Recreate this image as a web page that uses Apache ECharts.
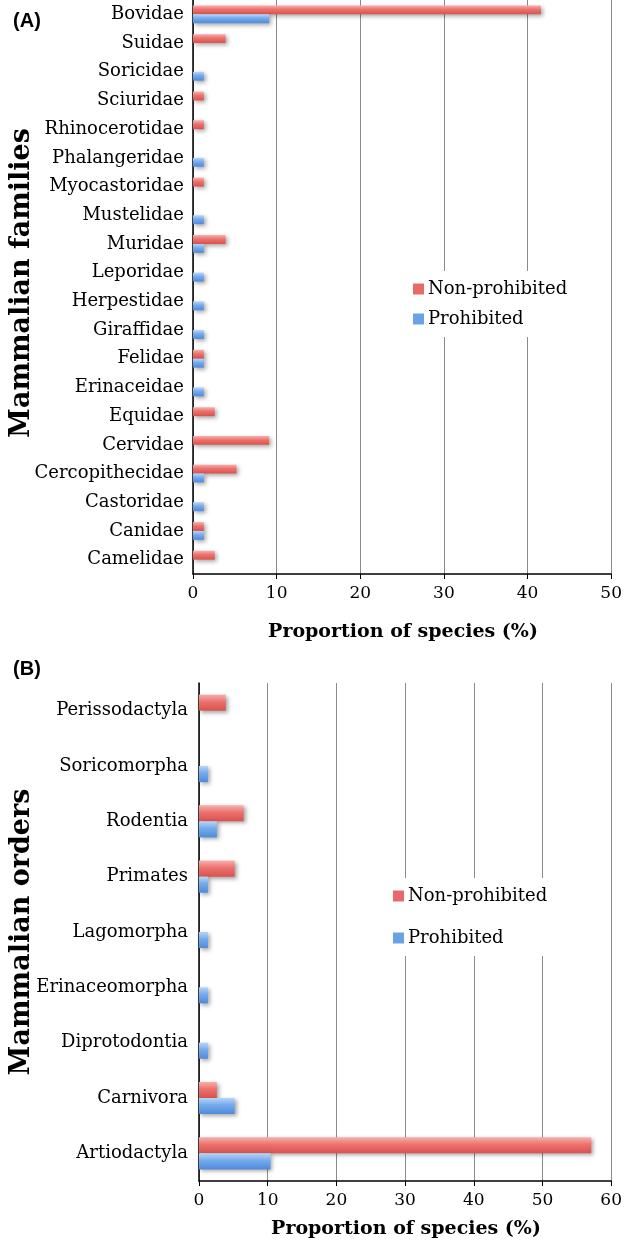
<!DOCTYPE html>
<html>
<head>
<meta charset="utf-8">
<script src="https://cdn.jsdelivr.net/npm/echarts@6/dist/echarts.min.js"></script>
<style>
html,body{margin:0;padding:0;background:#fff;}
#chart{width:625px;height:1245px;}
</style>
</head>
<body>
<div id="chart"></div>
<script>
// Panel A: mammalian families (top to bottom)
const familyCategories = ['Bovidae','Suidae','Soricidae','Sciuridae','Rhinocerotidae','Phalangeridae','Myocastoridae','Mustelidae','Muridae','Leporidae','Herpestidae','Giraffidae','Felidae','Erinaceidae','Equidae','Cervidae','Cercopithecidae','Castoridae','Canidae','Camelidae'];
const familyNonProhibited = [41.6, 3.9, 0, 1.3, 1.3, 0, 1.3, 0, 3.9, 0, 0, 0, 1.3, 0, 2.6, 9.1, 5.2, 0, 1.3, 2.6];
const familyProhibited    = [9.1, 0, 1.3, 0, 0, 1.3, 0, 1.3, 1.3, 1.3, 1.3, 1.3, 1.3, 1.3, 0, 0, 1.3, 1.3, 1.3, 0];
const familyTicks = [0, 10, 20, 30, 40, 50];

// Panel B: mammalian orders (top to bottom)
const orderCategories = ['Perissodactyla','Soricomorpha','Rodentia','Primates','Lagomorpha','Erinaceomorpha','Diprotodontia','Carnivora','Artiodactyla'];
const orderNonProhibited = [3.9, 0, 6.5, 5.2, 0, 0, 0, 2.6, 57.1];
const orderProhibited    = [0, 1.3, 2.6, 1.3, 1.3, 1.3, 1.3, 5.2, 10.4];
const orderTicks = [0, 10, 20, 30, 40, 50, 60];

const seriesNames = ['Non-prohibited', 'Prohibited'];

const serif = "'DejaVu Serif', serif";
const redGrad = new echarts.graphic.LinearGradient(0, 0, 0, 1, [
  {offset: 0, color: '#f7b0ad'}, {offset: 0.45, color: '#ec716d'}, {offset: 1, color: '#d9524e'}
]);
const blueGrad = new echarts.graphic.LinearGradient(0, 0, 0, 1, [
  {offset: 0, color: '#b6d6f8'}, {offset: 0.45, color: '#74a9ec'}, {offset: 1, color: '#4f8bd9'}
]);
const shadow = {shadowColor: 'rgba(0,0,0,0.35)', shadowBlur: 4, shadowOffsetX: 2, shadowOffsetY: 2};

function xAxisFor(gridIndex, ticks) {
  return {
    type: 'value', gridIndex: gridIndex,
    min: ticks[0], max: ticks[ticks.length - 1], interval: ticks[1] - ticks[0],
    axisLine: {show: true, lineStyle: {color: '#000', width: 1.5}},
    axisTick: {show: true, length: 5, lineStyle: {color: '#000', width: 1}},
    axisLabel: {color: '#000', fontFamily: serif, fontSize: 17, margin: 11},
    splitLine: {show: true, lineStyle: {color: '#8a8a8a', width: 1}}
  };
}
function yAxisFor(gridIndex, cats, margin) {
  return {
    type: 'category', gridIndex: gridIndex, data: cats, inverse: true,
    axisLine: {show: true, lineStyle: {color: '#000', width: 1.5}},
    axisTick: {show: false},
    axisLabel: {color: '#000', fontFamily: serif, fontSize: 18, margin: margin},
    splitLine: {show: false}
  };
}
function bar(name, data, idx, color, gap) {
  return {
    name: name, type: 'bar', xAxisIndex: idx, yAxisIndex: idx, data: data,
    barGap: '0%', barCategoryGap: gap,
    itemStyle: Object.assign({color: color}, shadow),
    emphasis: {disabled: true}
  };
}
function legendAt(left, top, gap) {
  return {
    data: seriesNames.map((n, i) => ({name: n, itemStyle: {color: i === 0 ? '#e86a66' : '#6aa2e6'}})),
    orient: 'vertical', left: left, top: top, itemGap: gap,
    icon: 'rect', itemWidth: 11, itemHeight: 11,
    backgroundColor: '#fff', padding: [9, 10, 9, 4],
    selectedMode: false,
    textStyle: {color: '#000', fontFamily: serif, fontSize: 18, padding: [0, 0, 0, -1]}
  };
}

const chart = echarts.init(document.getElementById('chart'), null, {renderer: 'canvas'});
chart.setOption({
  backgroundColor: '#fff',
  animation: false,
  grid: [
    {left: 193, right: 12, top: 0, height: 574},
    {left: 199, right: 12, top: 683, height: 498}
  ],
  xAxis: [xAxisFor(0, familyTicks), xAxisFor(1, orderTicks)],
  yAxis: [yAxisFor(0, familyCategories, 9), yAxisFor(1, orderCategories, 11)],
  legend: [legendAt(409, 271, 12), legendAt(389, 878, 24)],
  series: [
    bar(seriesNames[0], familyNonProhibited, 0, redGrad, '38%'),
    bar(seriesNames[1], familyProhibited, 0, blueGrad, '38%'),
    bar(seriesNames[0], orderNonProhibited, 1, redGrad, '42%'),
    bar(seriesNames[1], orderProhibited, 1, blueGrad, '42%')
  ],
  graphic: [
    {type: 'text', x: 27, y: 21, style: {text: '(A)', font: "bold 20px 'Liberation Sans', Arial, sans-serif", fill: '#000', textAlign: 'center', textVerticalAlign: 'middle'}},
    {type: 'text', x: 27, y: 669, style: {text: '(B)', font: "bold 20px 'Liberation Sans', Arial, sans-serif", fill: '#000', textAlign: 'center', textVerticalAlign: 'middle'}},
    {type: 'text', x: 22, y: 283, rotation: Math.PI / 2, style: {text: 'Mammalian families', font: "bold 27px 'DejaVu Serif', serif", fill: '#000', textAlign: 'center', textVerticalAlign: 'middle'}},
    {type: 'text', x: 22, y: 932, rotation: Math.PI / 2, style: {text: 'Mammalian orders', font: "bold 27px 'DejaVu Serif', serif", fill: '#000', textAlign: 'center', textVerticalAlign: 'middle'}},
    {type: 'text', x: 403, y: 632, style: {text: 'Proportion of species (%)', font: "bold 19px 'DejaVu Serif', serif", fill: '#000', textAlign: 'center', textVerticalAlign: 'middle'}},
    {type: 'text', x: 406, y: 1229, style: {text: 'Proportion of species (%)', font: "bold 19px 'DejaVu Serif', serif", fill: '#000', textAlign: 'center', textVerticalAlign: 'middle'}}
  ]
});
</script>
</body>
</html>
